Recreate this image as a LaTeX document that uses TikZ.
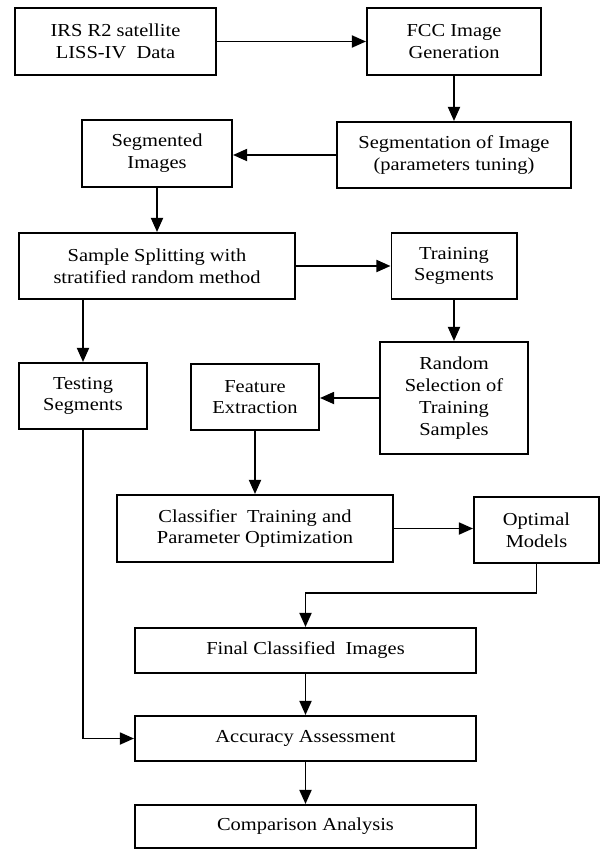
\documentclass[tikz,border=0pt]{standalone}
\usepackage{fontspec}
\setmainfont{Liberation Serif}[FakeStretch=1.12]
\usetikzlibrary{arrows.meta, positioning}

\begin{document}
\begin{tikzpicture}[
  x=0.025cm, y=-0.025cm,
  box/.style={rectangle, draw, line width=1.4pt, align=center, inner sep=2pt,
    font=\fontsize{13}{15.5}\selectfont},
  arrow/.style={-{Triangle[length=10pt, width=8.5pt]}, line width=1.4pt}
]
\useasboundingbox (0,0) rectangle (600,849);

\node[box, minimum width=5.025cm, minimum height=1.675cm] (src) at (115.5,41.5)
  {IRS R2 satellite\\LISS-IV\ \ Data};
\node[box, minimum width=4.35cm, minimum height=1.675cm] (fcc) at (454,41.5)
  {FCC Image\\Generation};
\node[box, minimum width=5.85cm, minimum height=1.65cm] (seg) at (454,155)
  {Segmentation of Image\\(parameters tuning)};
\node[box, minimum width=3.75cm, minimum height=1.675cm] (segimg) at (157,153.5)
  {Segmented\\Images};
\node[box, minimum width=6.9cm, minimum height=1.65cm] (split) at (157,266)
  {Sample Splitting with\\stratified random method};
\node[box, minimum width=3.125cm, minimum height=1.65cm] (train) at (454,266)
  {Training\\Segments};
\node[box, minimum width=3.2cm, minimum height=1.65cm] (test) at (83,396)
  {Testing\\Segments};
\node[box, minimum width=3.2cm, minimum height=1.65cm] (feat) at (255,397)
  {Feature\\Extraction};
\node[box, minimum width=3.7cm, minimum height=2.8cm] (rand) at (454,398)
  {Random\\Selection of\\Training\\Samples};
\node[box, minimum width=6.9cm, minimum height=1.675cm] (clf) at (255,528.5)
  {Classifier\ \ Training and\\Parameter Optimization};
\node[box, minimum width=3.125cm, minimum height=1.65cm] (opt) at (536.5,530)
  {Optimal\\Models};
\node[box, minimum width=8.525cm, minimum height=1.125cm] (final) at (305.5,650.5)
  {Final Classified\ \ Images};
\node[box, minimum width=8.525cm, minimum height=1.125cm] (acc) at (305.5,738.5)
  {Accuracy Assessment};
\node[box, minimum width=8.525cm, minimum height=1.075cm] (comp) at (305.5,826.5)
  {Comparison Analysis};

\draw[arrow] (src) -- (fcc);
\draw[arrow] (fcc) -- (seg);
\draw[arrow] (seg) -- (seg -| segimg.east);
\draw[arrow] (segimg) -- (split);
\draw[arrow] (split) -- (train);
\draw[arrow] (split.south -| test) -- (test);
\draw[arrow] (train) -- (rand);
\draw[arrow] (rand) -- (rand -| feat.east);
\draw[arrow] (feat) -- (clf);
\draw[arrow] (clf) -- (clf -| opt.west);
\draw[arrow] (opt.south) -- ++(0,29) -| (final.north);
\draw[arrow] (final) -- (acc);
\draw[arrow] (acc) -- (comp);
\draw[arrow] (test) |- (acc);
\end{tikzpicture}
\end{document}
